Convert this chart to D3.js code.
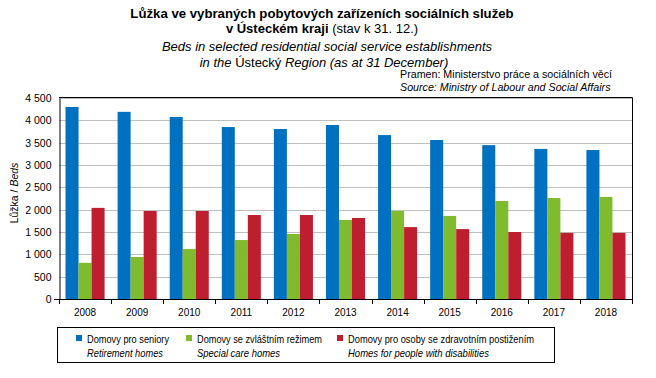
<!DOCTYPE html>
<html lang="cs">
<head>
<meta charset="UTF-8"/>
<title>Lůžka ve vybraných pobytových zařízeních</title>
<script src="https://d3js.org/d3.v7.min.js"></script>
<style>
	body { margin: 0; background: #fff; }
	text { font-family: "Liberation Sans", Arial, sans-serif; }
</style>
</head>
<body>
<script>
	// data
	var years = ["2008", "2009", "2010", "2011", "2012", "2013", "2014", "2015", "2016", "2017", "2018"];
	var seniory = [4300, 4190, 4075, 3850, 3805, 3895, 3670, 3560, 3445, 3360, 3335];
	var zvlastni = [810, 940, 1120, 1320, 1455, 1770, 1970, 1860, 2195, 2260, 2285];
	var postizeni = [2040, 1970, 1970, 1880, 1880, 1815, 1610, 1565, 1500, 1480, 1480];
	var yTicks = [0, 500, 1000, 1500, 2000, 2500, 3000, 3500, 4000, 4500];
	var seriesNames = ["Domovy pro seniory", "Domovy se zvláštním režimem", "Domovy pro osoby se zdravotním postižením"];
	var seriesNamesEn = ["Retirement homes", "Special care homes", "Homes for people with disabilities"];
	var colors = ["#0070c0", "#80ba2e", "#be1e2d"];

	var w = 656, h = 378;
	var pLeft = 59, pRight = 632, pTop = 98, pBottom = 299;

	var svg = d3.select("body").append("svg")
		.attr("width", w)
		.attr("height", h);

	// titles
	svg.append("text").attr("x", 322).attr("y", 18)
		.attr("text-anchor", "middle").attr("font-size", 13.2).attr("font-weight", "bold")
		.text("Lůžka ve vybraných pobytových  zařízeních sociálních služeb");
	var t2 = svg.append("text").attr("x", 322).attr("y", 33)
		.attr("text-anchor", "middle").attr("font-size", 13);
	t2.append("tspan").attr("font-weight", "bold").text("v Ústeckém  kraji ");
	t2.append("tspan").text("(stav  k 31. 12.)");

	svg.append("text").attr("x", 327).attr("y", 51)
		.attr("text-anchor", "middle").attr("font-size", 13).attr("font-style", "italic")
		.text("Beds in selected residential social service establishments");
	var t4 = svg.append("text").attr("x", 324).attr("y", 67)
		.attr("text-anchor", "middle").attr("font-size", 13).attr("font-style", "italic");
	t4.append("tspan").text("in the ");
	t4.append("tspan").attr("font-style", "normal").text("Ústecký");
	t4.append("tspan").text(" Region  (as at 31 December)");

	svg.append("text").attr("x", 400).attr("y", 78).attr("font-size", 10.7)
		.text("Pramen:  Ministerstvo práce a sociálních věcí");
	svg.append("text").attr("x", 400).attr("y", 91).attr("font-size", 10.7).attr("font-style", "italic")
		.text("Source: Ministry of Labour and Social Affairs");

	// scales
	var x0 = d3.scaleBand().domain(years).range([pLeft, pRight]).paddingInner(0.25).paddingOuter(0.125);
	var x1 = d3.scaleBand().domain([0, 1, 2]).range([0, x0.bandwidth()]);
	var y = d3.scaleLinear().domain([0, 4500]).range([pBottom, pTop]);

	// gridlines
	svg.selectAll(".grid").data(yTicks.slice(1)).enter().append("line")
		.attr("x1", pLeft).attr("x2", pRight)
		.attr("y1", function(d){ return Math.round(y(d)) + 0.5; })
		.attr("y2", function(d){ return Math.round(y(d)) + 0.5; })
		.attr("stroke", "#bfbfbf").attr("stroke-width", 1);

	// bars
	var all = [seniory, zvlastni, postizeni];
	all.forEach(function(vals, s){
		svg.selectAll(".bar" + s).data(vals).enter().append("rect")
			.attr("x", function(d, i){ return x0(years[i]) + x1(s); })
			.attr("y", function(d){ return y(d); })
			.attr("width", x1.bandwidth())
			.attr("height", function(d){ return pBottom - y(d); })
			.attr("fill", colors[s]);
	});

	// frame top / right
	svg.append("line").attr("x1", pLeft).attr("x2", pRight + 0.5).attr("y1", pTop - 0.5).attr("y2", pTop - 0.5)
		.attr("stroke", "#000");
	svg.append("line").attr("x1", pRight + 0.5).attr("x2", pRight + 0.5).attr("y1", pTop - 0.5).attr("y2", pBottom)
		.attr("stroke", "#000");

	// y axis
	var fmt = function(d){ return d3.format(",")(d).replace(",", " "); };
	var yAxis = svg.append("g").attr("transform", "translate(" + (pLeft + 0.5) + ",0)")
		.call(d3.axisLeft(y).tickValues(yTicks).tickSize(0).tickPadding(8).tickFormat(fmt));
	yAxis.select(".domain").attr("stroke", "#000");
	yAxis.selectAll("text").attr("font-size", 10.5).attr("fill", "#000")
		.style("font-family", "Liberation Sans, Arial, sans-serif");

	// x axis with ticks between categories
	var xAxis = svg.append("g").attr("transform", "translate(0," + (pBottom + 0.5) + ")")
		.call(d3.axisBottom(x0).tickSize(0).tickPadding(9));
	xAxis.select(".domain").attr("stroke", "#000").attr("d", "M" + (pLeft - 5) + ",0H" + (pRight + 0.5));
	xAxis.selectAll("text").attr("font-size", 10).attr("fill", "#000")
		.style("font-family", "Liberation Sans, Arial, sans-serif");
	var step = x0.step();
	svg.selectAll(".xt").data(d3.range(years.length + 1)).enter().append("line")
		.attr("x1", function(d){ return Math.round(pLeft + d * step) + 0.5; })
		.attr("x2", function(d){ return Math.round(pLeft + d * step) + 0.5; })
		.attr("y1", pBottom).attr("y2", pBottom + 5)
		.attr("stroke", "#000");

	// y label
	var yl = svg.append("text").attr("transform", "translate(18,193) rotate(-90)")
		.attr("text-anchor", "middle").attr("font-size", 10.5);
	yl.append("tspan").text("Lůžka / ");
	yl.append("tspan").attr("font-style", "italic").text("Beds");

	// legend
	svg.append("rect").attr("x", 57.5).attr("y", 327.5).attr("width", 497).attr("height", 35)
		.attr("fill", "none").attr("stroke", "#000");
	var legX = [76, 186, 337];
	var legW = [82, 125, 186];
	var legWEn = [76, 83, 141];
	seriesNames.forEach(function(n, i){
		svg.append("rect").attr("x", legX[i]).attr("y", 335).attr("width", 6).attr("height", 6)
			.attr("fill", colors[i]);
		svg.append("text").attr("x", legX[i] + 11).attr("y", 342.5).attr("font-size", 11.2)
			.attr("textLength", legW[i]).attr("lengthAdjust", "spacingAndGlyphs").text(n);
		svg.append("text").attr("x", legX[i] + 11).attr("y", 357).attr("font-size", 11.2)
			.attr("font-style", "italic")
			.attr("textLength", legWEn[i]).attr("lengthAdjust", "spacingAndGlyphs").text(seriesNamesEn[i]);
	});
</script>
</body>
</html>
